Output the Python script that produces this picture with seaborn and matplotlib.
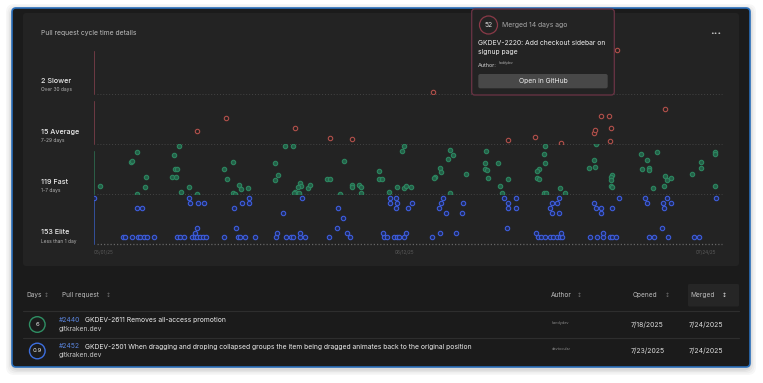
import matplotlib
matplotlib.use("Agg")
import matplotlib.pyplot as plt
from matplotlib.patches import FancyBboxPatch, Circle
import pandas as pd
import seaborn as sns

sns.set_theme(style="dark")
plt.rcParams['font.family'] = ['Inter', 'DejaVu Sans']

# ---------------- data ----------------
# merged day (days since 05/01/25), cycle time in days
band_names = ["Slower", "Average", "Fast", "Elite"]
band_counts = [2, 15, 119, 153]
band_ranges = ["Over 30 days", "7-29 days", "1-7 days", "Less than 1 day"]
band_limits = [(30, 55), (7, 29), (1, 7), (0, 1)]

slower_points = [(47.35, 31.0), (72.93, 52.0)]

average_points = [(18.42, 18.3), (14.33, 12.85), (28.09, 13.9), (32.89, 9.8), (36.04, 9.1),
                  (57.72, 8.6), (61.53, 9.95), (65.20, 7.3), (70.70, 19.3), (71.86, 19.3),
                  (69.81, 11.8), (69.95, 13.0), (72.18, 14.2), (72.00, 8.2), (79.63, 22.4)]

fast_points = [
    (0.88, 1.92), (6.04, 6.04), (5.12, 4.84), (5.30, 4.92), (7.21, 3.04), (7.16, 1.84), (6.04, 1.04),
    (11.90, 6.76), (11.16, 5.64), (11.34, 3.96), (11.54, 4.04), (10.88, 3.04), (11.44, 3.04),
    (12.18, 1.24), (13.30, 1.84), (14.41, 1.04), (19.44, 4.84), (18.18, 3.96), (18.60, 2.84),
    (19.44, 1.16), (19.72, 1.04), (20.27, 2.04), (20.51, 1.64), (21.53, 1.78), (26.69, 6.76),
    (27.77, 6.76), (25.25, 4.76), (25.63, 3.24), (25.30, 2.64), (28.74, 2.28), (28.93, 1.92),
    (28.51, 1.80), (28.05, 1.24), (27.95, 1.08), (28.56, 1.12), (29.82, 1.72), (30.14, 2.04),
    (32.55, 2.84), (32.89, 2.84), (34.92, 4.92), (34.28, 1.04), (36.04, 2.08), (36.00, 1.88),
    (37.02, 2.04), (37.25, 1.80), (37.25, 1.12), (39.81, 3.72), (39.81, 2.84), (40.14, 2.84),
    (41.12, 1.24), (42.24, 1.84), (42.98, 6.12), (43.30, 6.72), (43.30, 1.76), (43.58, 2.02),
    (44.27, 1.80), (49.71, 6.24), (50.05, 5.64), (49.44, 5.16), (48.32, 4.08), (48.42, 3.68),
    (47.58, 3.00), (47.44, 2.88), (51.86, 3.36), (49.71, 1.16), (54.70, 6.12), (54.60, 4.76),
    (56.33, 4.76), (54.56, 3.96), (54.84, 3.92), (54.93, 2.96), (56.65, 1.92), (56.97, 1.16),
    (57.77, 2.76), (62.93, 6.76), (62.83, 5.76), (62.93, 4.68), (62.09, 4.04), (61.86, 3.72),
    (61.86, 2.96), (62.05, 2.80), (62.83, 1.08), (63.03, 1.08), (64.98, 1.76), (65.65, 1.08),
    (70.04, 6.95), (69.81, 5.04), (69.11, 4.08), (69.95, 4.24), (72.32, 3.28), (72.14, 3.00),
    (72.18, 2.72), (72.14, 2.00), (72.24, 1.80), (76.28, 5.80), (78.60, 6.04), (77.16, 5.08),
    (76.46, 4.04), (77.40, 4.08), (77.44, 3.88), (78.00, 1.68), (79.67, 3.12), (79.99, 2.68),
    (80.51, 2.88), (79.49, 1.96), (83.48, 3.36), (84.74, 4.84), (84.74, 4.08), (86.69, 6.00),
    (86.69, 5.76), (86.69, 1.96)]

elite_points = [
    (4.05, .14), (4.37, .14), (5.34, .14), (6.07, .14), (6.46, .14), (6.98, .14), (7.40, .14),
    (8.41, .14), (11.62, .14), (12.0, .14), (12.60, .14), (13.74, .14), (14.09, .14), (14.44, .14),
    (14.79, .14), (15.14, .14), (15.56, .14), (18.10, .14), (20.09, .14), (20.37, .14), (21.07, .14),
    (22.49, .14), (25.46, .14), (26.72, .14), (27.49, .14), (27.70, .14), (28.74, .14), (29.51, .14),
    (32.83, .14), (35.76, .14), (40.46, .14), (40.95, .14), (41.90, .14), (42.30, .14), (42.62, .14),
    (43.29, .14), (47.12, .14), (61.95, .14), (62.37, .14), (62.93, .14), (63.63, .14), (64.09, .14),
    (64.56, .14), (65.02, .14), (65.34, .14), (69.25, .14), (70.14, .14), (71.06, .14), (71.95, .14),
    (72.28, .14), (72.88, .14), (77.48, .14), (78.18, .14), (80.05, .14), (83.76, .14), (84.37, .14),
    (14.16, .22), (25.58, .22), (28.74, .22), (35.35, .22), (40.37, .22), (43.58, .22), (48.32, .22),
    (50.51, .22), (61.74, .22), (65.20, .22), (71.06, .22),
    (14.33, .32), (19.77, .32), (33.95, .32), (57.67, .32), (79.30, .32),
    (34.74, .52),
    (26.37, .62), (49.05, .62), (51.28, .62), (63.91, .62), (64.95, .62), (70.78, .62),
    (6.04, .72), (6.74, .72), (19.53, .72), (34.09, .72), (42.18, .72), (43.88, .72), (48.10, .72),
    (57.77, .72), (58.88, .72), (63.58, .72), (70.11, .72), (70.81, .72), (72.21, .72), (79.57, .72),
    (13.44, .82), (14.51, .82), (15.39, .82), (20.69, .82), (21.63, .82), (41.26, .82), (42.24, .82),
    (44.41, .82), (48.46, .82), (51.53, .82), (57.72, .82), (63.91, .82), (64.60, .82), (69.81, .82),
    (77.12, .82), (79.39, .82), (80.55, .82),
    (0.0, .92), (13.21, .92), (21.56, .92), (29.02, .92), (41.34, .92), (42.18, .92), (48.70, .92),
    (57.21, .92), (58.88, .92), (64.88, .92), (73.25, .92), (76.92, .92), (79.99, .92), (86.72, .92)]

x_tick_days = [0, 42, 84]
x_tick_labels = ["05/01/25", "06/12/25", "07/24/25"]

table_days = ["6", "0.9"]
table_ids = ["#2440", "#2452"]
table_titles = ["GKDEV-2611 Removes all-access promotion",
                "GKDEV-2501 When dragging and droping collapsed groups the item being dragged animates back to the original position"]
table_repo = ["gitkraken.dev", "gitkraken.dev"]
table_authors = ["handydev", "devtocular"]
table_opened = ["7/18/2025", "7/23/2025"]
table_merged = ["7/24/2025", "7/24/2025"]

# ---------------- figure ----------------
W, H = 763, 383
fig = plt.figure(figsize=(W / 100, H / 100), dpi=100)
fig.patch.set_facecolor('white')

bg = fig.add_axes([0, 0, 1, 1], zorder=0)
bg.set_xlim(0, W); bg.set_ylim(H, 0); bg.axis('off')

# shadow
for i, a in enumerate([0.03, 0.03, 0.04, 0.05]):
    g = 6 - i * 1.5
    bg.add_patch(FancyBboxPatch((12 - g, 8 - g + 2), 738 + 2 * g, 359 + 2 * g,
                                boxstyle="round,pad=0,rounding_size=8", fc='black', ec='none', alpha=a))
# card
bg.add_patch(FancyBboxPatch((12, 8), 738, 359, boxstyle="round,pad=0,rounding_size=4",
                            fc='#1b1b1b', ec='#2a6fba', lw=1.2))
# chart panel
bg.add_patch(FancyBboxPatch((23, 13), 716, 253, boxstyle="round,pad=0,rounding_size=3",
                            fc='#232323', ec='none'))

bg.text(41, 33.5, "Pull request cycle time details", color='#bdbdbd', fontsize=4.85, va='center')
bg.text(715.5, 33, "•••", color='#d0d0d0', fontsize=4.5, va='center', ha='center', family='DejaVu Sans')

band_label_y = [81.3, 132, 182, 232]
band_sub_y = [90, 140.7, 190.7, 241]
for name, cnt, rng, y1, y2 in zip(band_names, band_counts, band_ranges, band_label_y, band_sub_y):
    bg.text(41, y1, f"{cnt} {name}", color='#ececec', fontsize=5.2, va='center', weight='medium')
    bg.text(41, y2, rng, color='#b0b0b0', fontsize=3.5, va='center')

# table
bg.add_patch(FancyBboxPatch((688, 284), 51, 22.5, boxstyle="round,pad=0,rounding_size=1.5",
                            fc='#262626', ec='none'))
for yy in [310.7, 337.5]:
    bg.plot([23, 739], [yy, yy], color='#2e2e2e', lw=0.8)
hdr_y = 295
headers = [("Days", 26, 46.5), ("Pull request", 62, 108), ("Author", 550.5, 579.5),
           ("Opened", 633, 667.5), ("Merged", 690.5, 724)]
for txt, x, ix in headers:
    bg.text(x, hdr_y, txt, color='#bdbdbd', fontsize=4.7, va='center')
    bg.text(ix, hdr_y, "↕", color='#e0e0e0' if txt == "Merged" else '#6f6f6f',
            fontsize=4.2, va='center', ha='center', family='DejaVu Sans')

row_circle_colors = ['#2f8f64', '#3d6fe0']
row_y = [324.5, 351]
for i in range(2):
    y = row_y[i]
    bg.add_patch(Circle((37.3, y), 7.8, fc='none', ec=row_circle_colors[i], lw=1.0))
    bg.text(37.3, y, table_days[i], color='#e8e8e8', fontsize=4.3, ha='center', va='center')
    bg.text(59, y - 4.5, table_ids[i], color='#5b86e0', fontsize=4.85, va='center')
    bg.text(85.3, y - 4.5, table_titles[i], color='#ececec', fontsize=4.85, va='center')
    bg.text(59, y + 4.5, table_repo[i], color='#c4c4c4', fontsize=4.85, va='center')
    bg.text(552, y - 1.5, table_authors[i], color='#8a8a8a', fontsize=2.7, va='center')
    bg.text(631, y, table_opened[i], color='#dcdcdc', fontsize=5.0, va='center')
    bg.text(689, y, table_merged[i], color='#dcdcdc', fontsize=5.0, va='center')

# ---------------- scatter bands ----------------
x0, x1 = 94, 722
xmax = (x1 - x0) / 7.167
band_tops = [44, 94, 144, 194]
band_points = [slower_points, average_points, fast_points, elite_points]
face = ['#262020', '#262020', '#235f47', '#1f2958']
edge = ['#b0504b', '#b0504b', '#2d8660', '#3d5ddc']
vline = ['#6e3a43', '#6e3a43', '#2c5f48', '#34509a']

for k in range(4):
    top = band_tops[k]
    ax = fig.add_axes([x0 / W, 1 - (top + 50) / H, (x1 - x0) / W, 50 / H], zorder=2)
    ax.set_facecolor('none')
    df = pd.DataFrame(band_points[k], columns=['merged', 'cycle'])
    sns.scatterplot(data=df, x='merged', y='cycle', ax=ax, s=10, color=face[k],
                    edgecolor=edge[k], linewidth=0.8, legend=False, zorder=3)
    ax.set_xlim(0, xmax)
    ax.set_ylim(*band_limits[k])
    for s in ax.spines.values():
        s.set_visible(False)
    ax.set_xlabel(''); ax.set_ylabel('')
    ax.set_yticks([])
    ax.grid(False)
    ax.axvline(0, ymin=0, ymax=0.86, color=vline[k], lw=0.7, clip_on=False)
    if k == 3:
        ax.axhline(band_limits[k][0], xmin=0.004, xmax=1, color='#666666',
                   ls=(0, (1, 1.6)), lw=0.9, clip_on=False)
        ax.set_xticks(x_tick_days)
        ax.set_xticklabels(x_tick_labels, ha='left')
        ax.tick_params(axis='x', length=0, pad=4, labelsize=3.4, labelcolor='#5a5a5a')
    else:
        ax.axhline(band_limits[k][0], xmin=0.004, xmax=1, color='#444444',
                   ls=(0, (1, 2)), lw=0.7, clip_on=False)
        ax.set_xticks([])

# ---------------- tooltip overlay ----------------
ov = fig.add_axes([0, 0, 1, 1], zorder=10)
ov.set_xlim(0, W); ov.set_ylim(H, 0); ov.axis('off')
ov.patch.set_alpha(0)
ov.add_patch(FancyBboxPatch((471.7, 9), 142.6, 86, boxstyle="round,pad=0,rounding_size=3",
                            fc='#232323', ec='#6b3445', lw=0.9))
ov.add_patch(Circle((488.5, 25), 9, fc='none', ec='#8a3a48', lw=0.9))
ov.text(488.5, 25, "52", color='#dddddd', fontsize=4.8, ha='center', va='center')
ov.text(502, 25, "Merged 14 days ago", color='#a8a8a8', fontsize=4.9, va='center')
ov.text(478.3, 43.3, "GKDEV-2220: Add checkout sidebar on", color='#eeeeee', fontsize=4.9, va='center')
ov.text(478.3, 52.3, "signup page", color='#eeeeee', fontsize=4.9, va='center')
ov.text(478.3, 65.5, "Author:", color='#d0d0d0', fontsize=4.0, va='center')
ov.text(498.5, 63.3, "haddydev", color='#b0b0b0', fontsize=2.3, va='center')
ov.add_patch(FancyBboxPatch((478.3, 74), 129.4, 14.3, boxstyle="round,pad=0,rounding_size=2",
                            fc='#484848', ec='none'))
ov.text(543, 81.2, "Open in GitHub", color='#eeeeee', fontsize=4.9, ha='center', va='center')

fig.savefig("out.png", dpi=100, facecolor=fig.get_facecolor())
